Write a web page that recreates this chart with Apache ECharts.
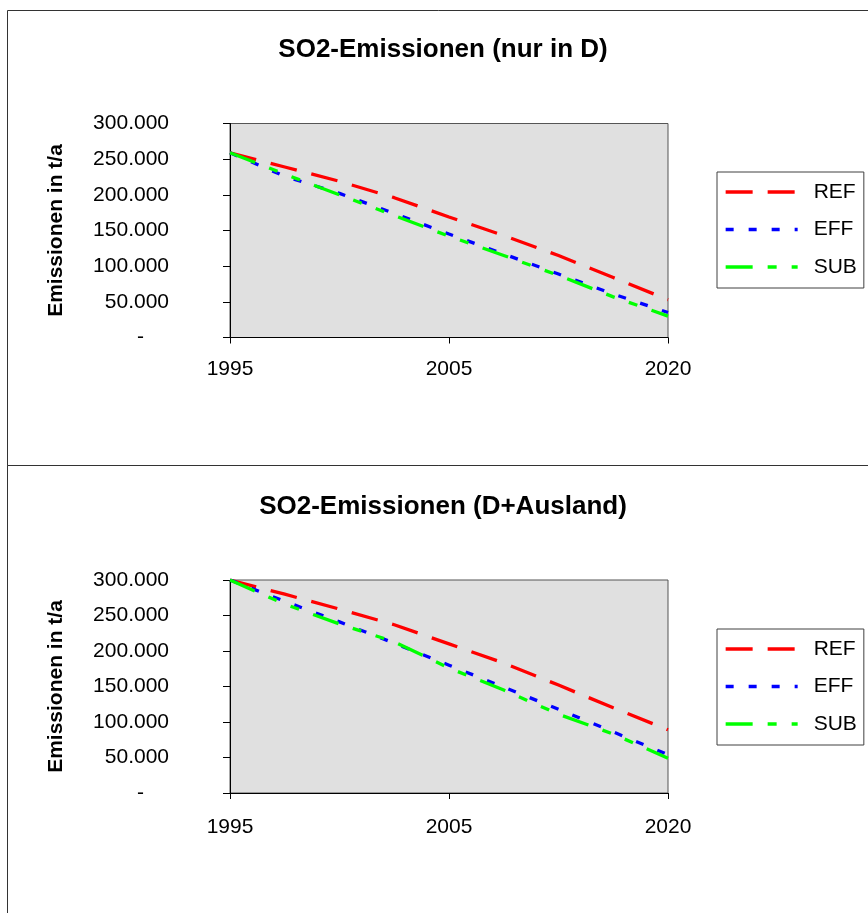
<!DOCTYPE html>
<html><head><meta charset="utf-8">
<script src="https://cdn.jsdelivr.net/npm/echarts@6/dist/echarts.min.js"></script>
<style>html,body{margin:0;padding:0;background:#fff}#c{width:868px;height:913px}</style>
</head><body><div id="c"></div>
<script>
// ---- data ----
const years = ['1995','1998','2000','2003','2005','2008','2010','2015','2020'];
const seriesNames = ['REF','EFF','SUB'];
const titles = ['SO2-Emissionen (nur in D)','SO2-Emissionen (D+Ausland)'];
const yAxisName = 'Emissionen in t/a';
const yMin = 0, yMax = 300000, yStep = 50000;
// panel 1: nur in D
const refD  = [259000, 239000, 219000, 196000, 169000, 143000, 115000, 84000, 53000];
const effD  = [259000, 226000, 202000, 174000, 145000, 117000, 89000, 61000, 35000];
const subD  = [259000, 229000, 200000, 171000, 142000, 115000, 87000, 57000, 30000];
// panel 2: D+Ausland
const refDA = [300000, 280000, 259000, 237000, 210000, 183000, 152000, 120000, 89000];
const effDA = [300000, 270000, 241000, 211000, 180000, 149000, 118000, 86000, 54000];
const subDA = [300000, 266000, 238000, 213000, 176000, 145000, 111000, 83000, 49000];

// ---- styles ----
const FONT = 'Liberation Sans, Arial, sans-serif';
const colors = ['#ff0000', '#0000ff', '#00ff00'];
const dashes = [[27, 15], [8, 15], [27, 15, 9, 15, 9, 15]];
const panelData = [[refD, effD, subD], [refDA, effDA, subDA]];
const gridTops = [123.5, 580];
const gridHeights = [214, 213];
const titleTops = [37, 494];
const legendTops = [172, 629];
const xLabelMargins = [21, 24];

function fmt(v) {
  if (v === 0) return '{z|-}';
  return String(v).replace(/\B(?=(\d{3})+(?!\d))/g, '.');
}

const grid = [], xAxis = [], yAxis = [], series = [], title = [], legend = [];
for (let p = 0; p < 2; p++) {
  grid.push({left: 230, top: gridTops[p], width: 438, height: gridHeights[p],
    show: true, backgroundColor: '#e0e0e0', borderColor: '#555', borderWidth: 1});
  xAxis.push({type: 'category', gridIndex: p, data: years, boundaryGap: false,
    axisLine: {lineStyle: {color: '#000', width: 1}},
    axisTick: {interval: 3, length: 6, lineStyle: {color: '#000'}},
    axisLabel: {interval: 3, margin: xLabelMargins[p], color: '#000', fontSize: 21, fontFamily: FONT},
    splitLine: {show: false}});
  yAxis.push({type: 'value', gridIndex: p, min: yMin, max: yMax, interval: yStep,
    name: yAxisName, nameLocation: 'middle', nameRotate: 90, nameGap: 163,
    nameTextStyle: {fontSize: 21, fontWeight: 'bold', color: '#000', fontFamily: FONT},
    axisLine: {show: true, lineStyle: {color: '#000', width: 1}},
    axisTick: {show: true, length: 7, lineStyle: {color: '#000'}},
    axisLabel: {margin: 61, color: '#000', fontSize: 21, fontFamily: FONT, formatter: fmt,
      rich: {z: {fontSize: 21, fontFamily: FONT, color: '#000', padding: [0, 25, 0, 0]}}},
    splitLine: {show: false}});
  title.push({text: titles[p], left: 443, top: titleTops[p], textAlign: 'center', padding: 0,
    textStyle: {fontSize: 26, fontWeight: 'bold', color: '#000', fontFamily: FONT}});
  legend.push({orient: 'vertical', left: 717, top: legendTops[p], data: seriesNames,
    itemWidth: 72, itemHeight: 21, itemGap: 16.5, padding: [9.5, 7, 10.5, 7],
    backgroundColor: '#fff', borderColor: '#404040', borderWidth: 1, borderRadius: 0,
    selectedMode: false,
    itemStyle: {color: 'rgba(0,0,0,0)', borderWidth: 0, opacity: 0},
    lineStyle: {width: 3.3, opacity: 1},
    textStyle: {fontSize: 21, color: '#000', fontFamily: FONT, padding: [0, 0, 0, 11]}});
  for (let s = 0; s < 3; s++) {
    series.push({name: seriesNames[s], type: 'line', xAxisIndex: p, yAxisIndex: p,
      data: panelData[p][s], symbol: 'none', animation: false,
      lineStyle: {color: colors[s], width: 3.3, type: dashes[s], cap: 'butt'},
      itemStyle: {color: colors[s]}});
  }
}

const chart = echarts.init(document.getElementById('c'), null, {renderer: 'canvas'});
chart.setOption({
  backgroundColor: '#fff',
  animation: false,
  graphic: [
    {type: 'rect', z: -10, shape: {x: 7.5, y: 10.5, width: 900, height: 455}, style: {fill: 'none', stroke: '#333', lineWidth: 1}},
    {type: 'rect', z: -10, shape: {x: 7.5, y: 465.5, width: 900, height: 500}, style: {fill: 'none', stroke: '#333', lineWidth: 1}}
  ],
  title, legend, grid, xAxis, yAxis, series
});
</script></body></html>
